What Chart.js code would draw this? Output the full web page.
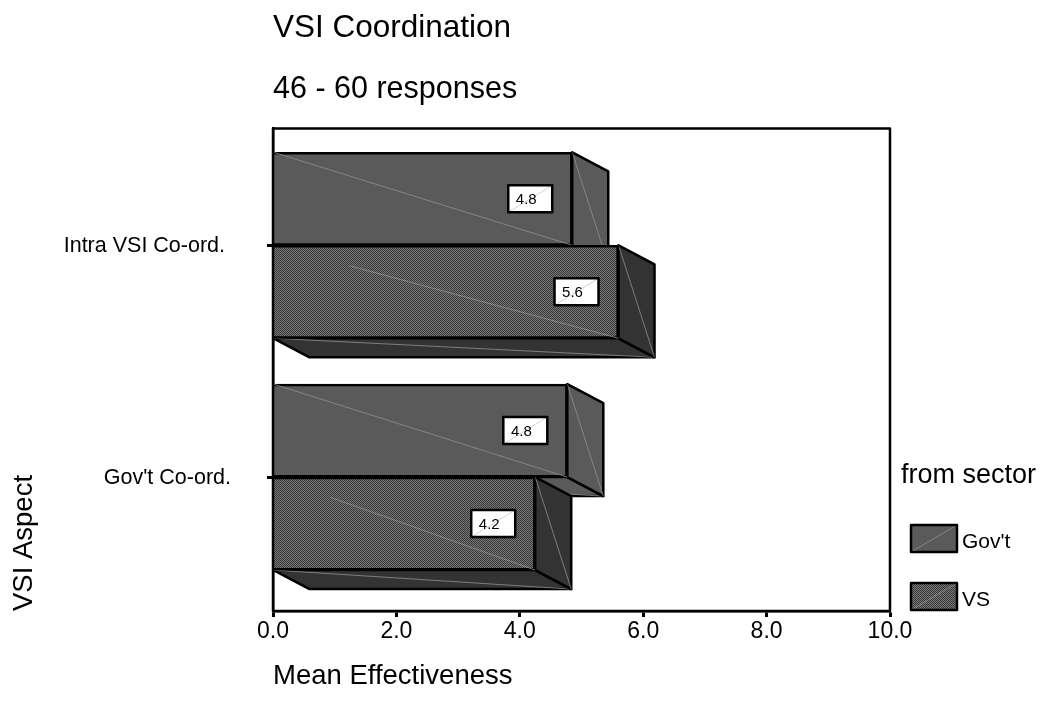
<!DOCTYPE html>
<html lang="en">

<head>
	<meta charset="UTF-8">
	<title>VSI Coordination</title>
	<script src="https://cdn.jsdelivr.net/npm/chart.js"></script>
	<style>
		html, body { margin: 0; padding: 0; background: #fff; }
		canvas { display: block; }
	</style>
</head>

<body>
	<canvas id="ctx" width="1040" height="713"></canvas>

	<script>
		const categories = ["Intra VSI Co-ord. ", "Gov't Co-ord."];
		const govValues = [4.85, 4.77];
		const vsValues = [5.6, 4.25];
		const govLabels = ["4.8", "4.8"];
		const vsLabels = ["5.6", "4.2"];
		const seriesNames = ["Gov't", "VS"];
		const xTicks = [0, 2, 4, 6, 8, 10];

		const FONT = '"Liberation Sans", Arial, sans-serif';
		const DX = 36, DY = 19;
		const OUTLINE = 2.5;

		function ditherPattern() {
			const c = document.createElement('canvas');
			c.width = 2; c.height = 2;
			const g = c.getContext('2d');
			g.fillStyle = '#787878';
			g.fillRect(0, 0, 2, 2);
			g.fillStyle = '#383838';
			g.fillRect(0, 0, 1, 1);
			g.fillRect(1, 1, 1, 1);
			return g.createPattern(c, 'repeat');
		}

		function poly(g, pts, fill) {
			g.beginPath();
			pts.forEach((p, i) => i ? g.lineTo(p[0], p[1]) : g.moveTo(p[0], p[1]));
			g.closePath();
			g.fillStyle = fill;
			g.fill();
			g.lineWidth = OUTLINE;
			g.lineJoin = 'round';
			g.strokeStyle = '#000';
			g.stroke();
		}

		function thinLine(g, x1, y1, x2, y2, col) {
			g.beginPath();
			g.moveTo(x1, y1);
			g.lineTo(x2, y2);
			g.lineWidth = 0.8;
			g.strokeStyle = col || '#8f8f8f';
			g.stroke();
		}

		const depthColors = ['#5a5a5a', '#333333'];
		const valueLabels = [govLabels, vsLabels];

		// bars are drawn by hand here: Gov't sits on top in the group but has to be painted first
		const box3d = {
			id: 'box3d',
			beforeDatasetsDraw(chart) {
				const g = chart.ctx;
				g.save();
				chart.data.datasets.forEach((ds, d) => {
					const meta = chart.getDatasetMeta(d);
					meta.data.forEach(bar => {
						const x0 = bar.base, x1 = bar.x;
						const top = bar.y - bar.height / 2, bot = bar.y + bar.height / 2;
						poly(g, [[x0, bot], [x0 + DX, bot + DY], [x1 + DX, bot + DY], [x1, bot]], depthColors[d]);
						thinLine(g, x0, bot, x1 + DX, bot + DY);
						poly(g, [[x1, top], [x1 + DX, top + DY], [x1 + DX, bot + DY], [x1, bot]], depthColors[d]);
						thinLine(g, x1, top, x1 + DX, bot + DY);
					});
					meta.controller.draw();
					meta.data.forEach(bar => {
						const x0 = bar.base, x1 = bar.x;
						const top = bar.y - bar.height / 2, bot = bar.y + bar.height / 2;
						const s = d === 1 ? 0.22 : 0;
						thinLine(g, x0 + (x1 - x0) * s, top + (bot - top) * s, x1, bot);
					});
				});

				chart.data.datasets.forEach((ds, d) => {
					chart.getDatasetMeta(d).data.forEach((bar, i) => {
						const w = 44, h = 27;
						const bx = bar.x - 20 - w, by = bar.y - h / 2;
						g.fillStyle = '#fff';
						g.fillRect(bx, by, w, h);
						thinLine(g, bx, by + h, bx + w, by, '#c8c8c8');
						g.lineWidth = OUTLINE;
						g.strokeStyle = '#000';
						g.strokeRect(bx, by, w, h);
						g.fillStyle = '#000';
						g.font = '15px ' + FONT;
						g.textAlign = 'center';
						g.textBaseline = 'middle';
						g.fillText(valueLabels[d][i], bx + w / 2 - 4, by + h / 2 + 1);
					});
				});

				// frame, top and right sides
				const a = chart.chartArea;
				g.strokeStyle = '#000';
				g.lineWidth = OUTLINE;
				g.strokeRect(a.left, a.top, a.right - a.left, a.bottom - a.top);

				// legend
				g.fillStyle = '#000';
				g.font = '27px ' + FONT;
				g.textAlign = 'left';
				g.textBaseline = 'middle';
				g.fillText('from sector', 901, 476);
				const fills = [chart.data.datasets[0].backgroundColor, chart.data.datasets[1].backgroundColor];
				[525, 583].forEach((y, i) => {
					g.fillStyle = fills[i];
					g.fillRect(911, y, 46, 27);
					thinLine(g, 911, y + 27, 957, y);
					g.strokeStyle = '#000';
					g.lineWidth = OUTLINE;
					g.strokeRect(911, y, 46, 27);
					g.fillStyle = '#000';
					g.font = '21px ' + FONT;
					g.fillText(seriesNames[i], 962, y + 17);
				});
				g.restore();
				return false;
			}
		};

		const chartOptions = {
			indexAxis: 'y',
			responsive: false,
			animation: false,
			layout: { padding: { left: 0, right: 150, top: 0, bottom: 0 } },
			plugins: {
				legend: { display: false },
				tooltip: { enabled: false },
				title: {
					display: true, text: 'VSI Coordination', align: 'start', fullSize: false,
					color: '#000', font: { family: FONT, size: 31.5, weight: 'normal' },
					padding: { top: 9, bottom: 10 }
				},
				subtitle: {
					display: true, text: '46 - 60 responses', align: 'start', fullSize: false,
					color: '#000', font: { family: FONT, size: 30.5, weight: 'normal' },
					padding: { top: 14, bottom: 21 }
				}
			},
			scales: {
				x: {
					type: 'linear', min: 0, max: 10,
					afterBuildTicks: s => { s.ticks = xTicks.map(v => ({ value: v })); },
					afterFit: s => { s.height = 102; },
					grid: { drawOnChartArea: false, color: '#000', tickLength: 6, tickWidth: 3, tickColor: '#000' },
					border: { color: '#000', width: OUTLINE },
					ticks: { color: '#000', font: { family: FONT, size: 23 }, padding: 1, maxRotation: 0, callback: v => v.toFixed(1) },
					title: {
						display: true, text: 'Mean Effectiveness', align: 'start',
						color: '#000', font: { family: FONT, size: 27.5 }, padding: { top: 20, bottom: 20 }
					}
				},
				y: {
					type: 'linear', offset: false, min: 0.4224, max: 2.5043,
					afterBuildTicks: s => { s.ticks = categories.map((c, i) => ({ value: i + 1 })); },
					afterFit: s => { s.width = 273; },
					grid: { offset: false, drawOnChartArea: false, color: '#000', tickLength: 6, tickWidth: 3, tickColor: '#000' },
					border: { color: '#000', width: OUTLINE },
					ticks: { color: '#000', font: { family: FONT, size: 21.5 }, padding: 36, labelOffset: 1, callback: v => categories[categories.length - v] },
					title: {
						display: true, text: 'VSI Aspect', align: 'start',
						color: '#000', font: { family: FONT, size: 27.5 }, padding: { top: 8, bottom: 0 }
					}
				}
			}
		};

		new Chart(document.getElementById('ctx'), {
			type: 'bar',
			plugins: [box3d],
			data: {
				datasets: [
					{
						label: seriesNames[0], barThickness: 93,
						data: categories.map((c, i) => ({ x: govValues[i], y: categories.length - i })),
						backgroundColor: '#5a5a5a', borderColor: '#000', borderWidth: 2.5
					},
					{
						label: seriesNames[1], barThickness: 93,
						data: categories.map((c, i) => ({ x: vsValues[i], y: categories.length - i })),
						backgroundColor: ditherPattern(), borderColor: '#000', borderWidth: 2.5
					}
				]
			},
			options: chartOptions
		});
	</script>
</body>

</html>
